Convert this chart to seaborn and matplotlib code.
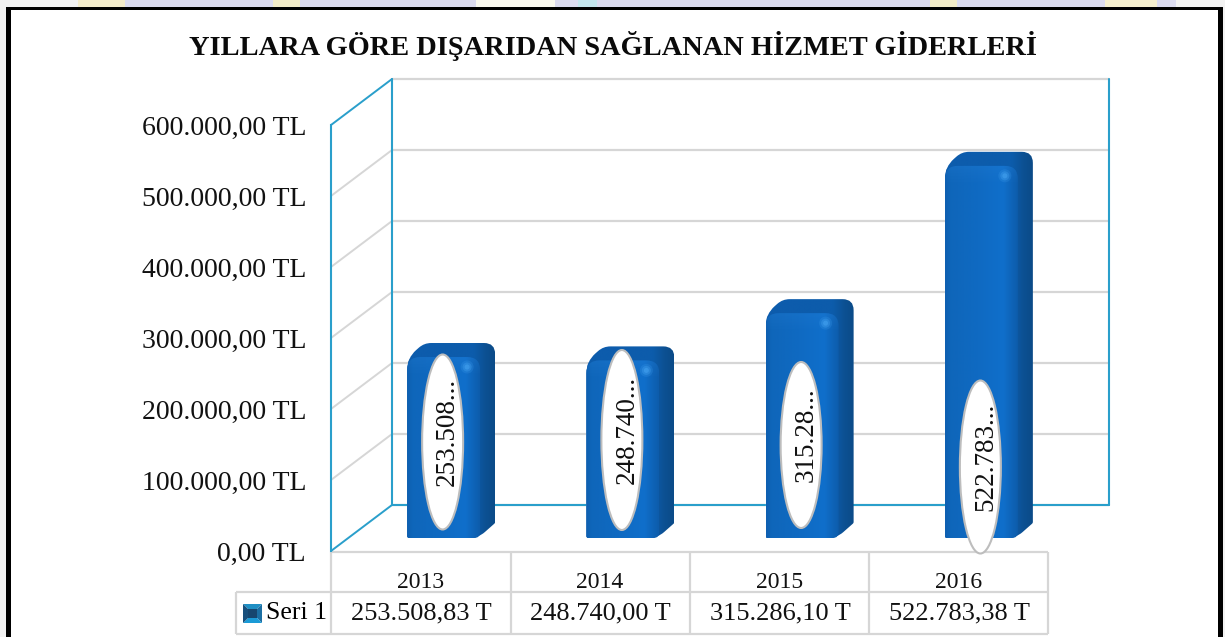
import numpy as np
import matplotlib
matplotlib.use("Agg")
import matplotlib.pyplot as plt
import matplotlib.transforms as mtransforms
from matplotlib.colors import LinearSegmentedColormap, to_rgb
from matplotlib.patches import Ellipse, PathPatch, Polygon, Rectangle
from matplotlib.path import Path
import seaborn as sns

years = ["2013", "2014", "2015", "2016"]
values = [253508.83, 248740.00, 315286.10, 522783.38]
short_labels = ["253.508...", "248.740...", "315.28...", "522.783..."]
value_labels = ["253.508,83 T", "248.740,00 T", "315.286,10 T", "522.783,38 T"]
y_ticks = [0, 100000, 200000, 300000, 400000, 500000, 600000]
y_labels = ["0,00 TL", "100.000,00 TL", "200.000,00 TL", "300.000,00 TL",
            "400.000,00 TL", "500.000,00 TL", "600.000,00 TL"]
series_name = "Seri 1"
title = "YILLARA GÖRE DIŞARIDAN SAĞLANAN HİZMET GİDERLERİ"

W, H = 1225, 637
BLUE = "#2a9fcb"
GREY = "#d6d6d6"

sns.set_theme(style="white")
plt.rcParams["font.family"] = ["Liberation Serif", "DejaVu Serif"]

fig = plt.figure(figsize=(W / 100, H / 100), dpi=100)
fig.patch.set_facecolor("white")


def px_axes(left, right, top, bottom, **kw):
    return fig.add_axes([left / W, 1 - bottom / H, (right - left) / W, (bottom - top) / H], **kw)


# page behind the chart, frame and the table lines
bg = px_axes(0, W, 0, H, zorder=0)
bg.set_xlim(0, W)
bg.set_ylim(H, 0)
bg.axis("off")
bg.add_patch(Rectangle((0, 0), W, H, fc="#f2f2f2", ec="none"))
strip = [(78, 125, "#f4eccb"), (125, 273, "#dcdcf0"), (273, 300, "#f3ecc8"), (300, 476, "#dcdcf0"),
         (476, 555, "#fbfaf0"), (555, 578, "#dcdcf0"), (578, 597, "#c4e6ee"), (597, 930, "#dcdcf0"),
         (930, 957, "#f3ecc8"), (957, 1105, "#dcdcf0"), (1105, 1157, "#f6f0cf"), (1157, 1176, "#dcdcf0")]
for a, b, c in strip:
    bg.add_patch(Rectangle((a, 0), b - a, 8, fc=c, ec="none"))
bg.add_patch(Rectangle((6, 7), 1217, 640, fc="black", ec="none"))
bg.add_patch(Rectangle((11, 10), 1207, 640, fc="white", ec="none"))

for y, x0 in [(552, 331), (592, 236), (634, 236)]:
    bg.plot([x0, 1048], [y, y], color=GREY, lw=1.6, solid_capstyle="butt")
for x, y0 in [(236, 592), (331, 552), (511, 552), (690, 552), (869, 552), (1048, 552)]:
    bg.plot([x, x], [y0, 634], color=GREY, lw=1.6, solid_capstyle="butt")

# legend key of the table
kx0, kx1, ky0, ky1 = 243, 262, 604, 623
kc = ((kx0 + kx1) / 2, (ky0 + ky1) / 2)
for pts, col in [([(kx0, ky0), (kx1, ky0), kc], "#1f8fc4"), ([(kx1, ky0), (kx1, ky1), kc], "#1c6fa3"),
                 ([(kx1, ky1), (kx0, ky1), kc], "#1b9ad6"), ([(kx0, ky1), (kx0, ky0), kc], "#174f7c")]:
    bg.add_patch(Polygon(pts, fc=col, ec="none"))
bg.add_patch(Rectangle((kx0 + 5, ky0 + 5), 9, 9, fc="#17466f", ec="none"))
bg.text(296, 613, series_name, fontsize=18.5, ha="center", va="center", color="black")

fig.suptitle(title, x=613 / W, y=1 - 46 / H, fontsize=20.4, fontweight="bold", va="center", color="#0a0a0a")

# front plane of the chart, carries the scales
ax = px_axes(331, 1048.0, 125, 551, zorder=1)
ax.patch.set_alpha(0)
ax.set_xlim(-0.5, 3.5)
ax.set_ylim(0, 600000)
ax.set_yticks(y_ticks)
ax.set_yticklabels(y_labels, fontsize=20, color="#111111")
ax.set_xticks(range(4))
ax.set_xticklabels(years, fontsize=17, color="#111111")
ax.tick_params(axis="y", length=0, pad=18)
ax.tick_params(axis="x", length=0, pad=15)
for s in ["top", "right", "bottom"]:
    ax.spines[s].set_visible(False)
ax.spines["left"].set_color(BLUE)
ax.spines["left"].set_linewidth(1.5)

DEPTH = (61, 46)
ident = mtransforms.IdentityTransform()
wall = mtransforms.offset_copy(ax.transData, fig, x=DEPTH[0], y=DEPTH[1], units="dots")
for t in y_ticks:
    ax.plot([-0.5, 3.5], [t, t], transform=wall, color=GREY, lw=1.6, clip_on=False, zorder=1)
    front = ax.transData.transform((-0.5, t))
    ax.plot([front[0], front[0] + DEPTH[0]], [front[1], front[1] + DEPTH[1]], transform=ident,
            color=GREY if 0 < t < 600000 else BLUE, lw=1.4, clip_on=False, zorder=2)
ax.plot([-0.5, 3.5], [0, 0], transform=wall, color=BLUE, lw=1.5, clip_on=False, zorder=3)
ax.plot([-0.5, -0.5], [0, 600000], transform=wall, color=BLUE, lw=1.5, clip_on=False, zorder=3)
ax.plot([3.5, 3.5], [0, 600000], transform=wall, color=BLUE, lw=1.5, clip_on=False, zorder=3)

for i, lab in enumerate(value_labels):
    ax.annotate(lab, xy=(i, 0), xytext=(1, -62), textcoords="offset pixels", ha="center", va="center",
                fontsize=19, color="#111111", annotation_clip=False)

# the bars stand a little in front of the back wall
bar_ax = px_axes(331 + 22, 1048 + 22, 125 - 13, 551 - 13, zorder=2)
bar_ax.patch.set_alpha(0)
sns.barplot(x=years, y=values, color="#1068c2", width=0.396, ax=bar_ax)
bar_ax.set_xlim(-0.5, 3.5)
bar_ax.set_ylim(0, 600000)
bar_ax.axis("off")


def rounded(points, radii):
    verts, codes = [], []
    n = len(points)
    for i in range(n):
        p = np.array(points[i], float)
        a = np.array(points[i - 1], float)
        b = np.array(points[(i + 1) % n], float)
        r = radii[i]
        p0 = p + (a - p) / np.linalg.norm(a - p) * r
        p1 = p + (b - p) / np.linalg.norm(b - p) * r
        verts += [p0, p, p1]
        codes += [Path.MOVETO if i == 0 else Path.LINETO, Path.CURVE3, Path.CURVE3]
    verts.append(verts[0])
    codes.append(Path.CLOSEPOLY)
    return Path(verts, codes)


DX, DY = 17, 15
fig.canvas.draw()
bars = list(bar_ax.patches)
for b in bars:
    (l, bot), (r, top) = b.get_window_extent().get_points()
    w = r - l
    sil = rounded([(l, bot), (r, bot), (r + DX, bot + DY), (r + DX, top + DY), (l + DX, top + DY), (l, top)],
                  [2, 9, 1, 11, 7, 12])
    clip = PathPatch(sil, transform=ident, fc="none", ec="none")
    bar_ax.add_patch(clip)
    b.set_clip_path(clip)

    # dark body: top face runs into the side
    span = w + DX
    stops = [(0, "#0d5cad"), ((w - 4) / span, "#0d5cab"), ((w + 8) / span, "#0c5092"), (1, "#0b4b88")]
    cm = LinearSegmentedColormap.from_list("side", stops)
    im = bar_ax.imshow(np.linspace(0, 1, 256)[None, :], cmap=cm, extent=(l, r + DX, bot, top + DY),
                       transform=ident, aspect="auto", zorder=3)
    im.set_clip_path(clip)

    # front face with soft top corners
    front_path = rounded([(l, bot), (r + 2, bot), (r + 2, top + 1), (l, top + 1)], [2, 6, 13, 13])
    front_clip = PathPatch(front_path, transform=ident, fc="none", ec="none")
    bar_ax.add_patch(front_clip)
    stops = [(0, "#0e5fb0"), (0.08, "#0f66ba"), (0.45, "#0f6ac2"), (0.8, "#106fcb"), (1, "#0d5cab")]
    cm = LinearSegmentedColormap.from_list("bar", stops)
    im = bar_ax.imshow(np.linspace(0, 1, 256)[None, :], cmap=cm, extent=(l, r + 2, bot, top + 1),
                       transform=ident, aspect="auto", zorder=4)
    im.set_clip_path(front_clip)

    # lit band under the top edge
    band = np.zeros((64, 2, 4))
    band[..., :3] = to_rgb("#2f86dc")
    band[..., 3] = np.linspace(0.2, 0, 64)[:, None]
    im = bar_ax.imshow(band, extent=(l, r + 2, top - 18, top + 1), transform=ident, aspect="auto", zorder=5)
    im.set_clip_path(front_clip)

    # small highlight at the corner
    for sz, al in [(13, 0.18), (9, 0.3), (5, 0.45)]:
        spot = Ellipse((r - 11, top - 9), sz, sz, transform=ident, fc="#4aa8f5", ec="none", alpha=al, zorder=6)
        bar_ax.add_patch(spot)
        spot.set_clip_path(clip)

bar_ax.set_xlim(-0.5, 3.5)
bar_ax.set_ylim(0, 600000)

# white data labels, placed by hand like in the original
label_cy = [442, 440, 445, 467]
label_h = [175, 180, 166, 173]
for b, txt, cy, h in zip(bars, short_labels, label_cy, label_h):
    (l, _), (r, _) = b.get_window_extent().get_points()
    cx = (l + r) / 2
    bar_ax.add_patch(Ellipse((cx, H - cy), 41, h, transform=ident, fc="white", ec="#bdbdbd", lw=1.5,
                             clip_on=False, zorder=8))
    bar_ax.text(cx + 5, H - cy + 10, txt, transform=ident, rotation=90, ha="center", va="center",
                fontsize=19.5, color="#111111", clip_on=False, zorder=9)

fig.savefig("out.png", dpi=100)
